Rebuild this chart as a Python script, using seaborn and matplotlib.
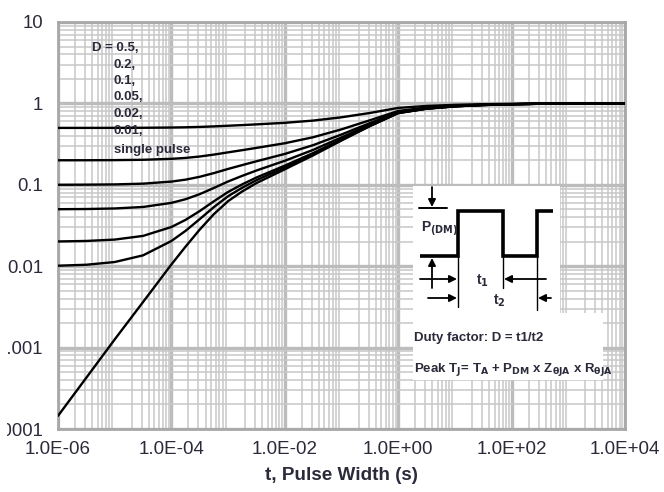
import numpy as np
import pandas as pd
import matplotlib
matplotlib.use("Agg")
import matplotlib.pyplot as plt
import seaborn as sns
from matplotlib.ticker import LogLocator, FixedLocator, FixedFormatter, NullFormatter
from matplotlib.patches import Rectangle

# ---------------- data ----------------
t_exp = [-6.0, -5.5, -5.0, -4.5, -4.0, -3.75, -3.5, -3.25, -3.0, -2.75, -2.5, -2.0,
         -1.5, -1.0, -0.5, 0.0, 0.5, 1.0, 1.5, 2.0, 2.5, 3.0, 3.5, 4.0]

z_d050 = [0.5, 0.5002, 0.5006, 0.5018, 0.5053, 0.5087, 0.5141, 0.5219, 0.5315, 0.5415,
          0.5525, 0.5775, 0.615, 0.675, 0.7625, 0.88, 0.93, 0.96, 0.978, 0.988, 0.995,
          0.998, 1.0, 1.0]
z_d020 = [0.2001, 0.2003, 0.201, 0.2029, 0.2084, 0.2139, 0.2226, 0.235, 0.2504, 0.2664,
          0.284, 0.324, 0.384, 0.48, 0.62, 0.808, 0.888, 0.936, 0.964, 0.98, 0.992,
          0.998, 1.0, 1.0]
z_d010 = [0.1001, 0.1004, 0.1011, 0.1033, 0.1095, 0.1157, 0.1254, 0.1393, 0.1567, 0.1747,
          0.1945, 0.2395, 0.307, 0.415, 0.5725, 0.784, 0.874, 0.928, 0.96, 0.978, 0.991,
          0.997, 1.0, 1.0]
z_d005 = [0.05014, 0.0504, 0.0512, 0.0534, 0.06, 0.0665, 0.0768, 0.0915, 0.1099, 0.1289,
          0.1498, 0.1973, 0.2685, 0.3825, 0.549, 0.772, 0.867, 0.924, 0.957, 0.976, 0.99,
          0.997, 1.0, 1.0]
z_d002 = [0.02014, 0.02042, 0.02123, 0.02356, 0.0303, 0.0371, 0.0476, 0.0628, 0.0817, 0.1013,
          0.1229, 0.1719, 0.2454, 0.363, 0.5345, 0.765, 0.863, 0.922, 0.956, 0.976, 0.99,
          0.997, 1.0, 1.0]
z_d001 = [0.01014, 0.01042, 0.01125, 0.01359, 0.0204, 0.0272, 0.0379, 0.0533, 0.0724, 0.0922,
          0.114, 0.1635, 0.2377, 0.3565, 0.53, 0.762, 0.861, 0.921, 0.955, 0.975, 0.99,
          0.997, 1.0, 1.0]
z_single = [1.45e-4, 4.27e-4, 1.26e-3, 3.63e-3, 0.0105, 0.0174, 0.0282, 0.0437, 0.063, 0.083,
            0.105, 0.155, 0.23, 0.35, 0.525, 0.76, 0.86, 0.92, 0.955, 0.975, 0.99,
            0.997, 1.0, 1.0]

series_names = ["D = 0.5,", "0.2,", "0.1,", "0.05,", "0.02,", "0.01,", "single pulse"]
series_values = [z_d050, z_d020, z_d010, z_d005, z_d002, z_d001, z_single]

x_ticks = [1e-6, 1e-4, 1e-2, 1e0, 1e2, 1e4]
x_tick_labels = ["1.0E-06", "1.0E-04", "1.0E-02", "1.0E+00", "1.0E+02", "1.0E+04"]
y_ticks = [1e-4, 1e-3, 1e-2, 1e-1, 1e0, 1e1]
y_tick_labels = ["0.0001", "0.001", "0.01", "0.1", "1", "10"]
x_label = "t, Pulse Width (s)"

# ---------------- build table ----------------
t_vals = [10 ** e for e in t_exp]
rows = []
for name, vals in zip(series_names, series_values):
    for t, z in zip(t_vals, vals):
        rows.append({"t": t, "z": z, "series": name})
df = pd.DataFrame(rows)

# ---------------- styling ----------------
sns.set_theme(style="white")
plt.rcParams["font.family"] = ["Liberation Sans", "DejaVu Sans"]
plt.rcParams["mathtext.fontset"] = "custom"
plt.rcParams["mathtext.rm"] = "Liberation Sans Narrow:bold"
plt.rcParams["mathtext.it"] = "Liberation Sans Narrow:bold"
plt.rcParams["mathtext.default"] = "rm"

W, H = 664, 492
fig = plt.figure(figsize=(W / 100, H / 100), dpi=100)
fig.patch.set_facecolor("white")

L, R, T, B = 58, 625, 22, 429
ax = fig.add_axes([L / W, (H - B) / H, (R - L) / W, (B - T) / H])
ax.set_xscale("log")
ax.set_yscale("log")
ax.set_xlim(1e-6, 1e4)
ax.set_ylim(1e-4, 10)

sns.lineplot(data=df, x="t", y="z", hue="series", palette=["black"] * len(series_names),
             legend=False, linewidth=1.7, estimator=None, sort=False, ax=ax, zorder=3)

ax.xaxis.set_major_locator(FixedLocator(x_ticks))
ax.xaxis.set_major_formatter(FixedFormatter(x_tick_labels))
ax.yaxis.set_major_locator(FixedLocator(y_ticks))
ax.yaxis.set_major_formatter(FixedFormatter(y_tick_labels))
ax.xaxis.set_minor_locator(LogLocator(base=10, subs=np.arange(2, 10), numticks=200))
ax.yaxis.set_minor_locator(LogLocator(base=10, subs=np.arange(2, 10), numticks=200))
ax.xaxis.set_minor_formatter(NullFormatter())
ax.yaxis.set_minor_formatter(NullFormatter())

ax.grid(which="major", color="#bcbcbc", linewidth=2.4)
ax.grid(which="minor", color="#c8c8c8", linewidth=1.1)
ax.set_axisbelow(True)
for s in ax.spines.values():
    s.set_color("#a8a8a8")
    s.set_linewidth(2)

ax.tick_params(axis="both", which="both", length=0)
ax.tick_params(axis="x", pad=9, labelsize=13.5, labelcolor="#2a2a3a")
ax.tick_params(axis="y", pad=10.8, labelsize=13.3, labelcolor="#2a2a3a")
ax.set_xlabel(x_label, fontsize=13.6, fontweight="bold", color="#2a2a3a", labelpad=6)
ax.set_ylabel("")

# ---------------- overlay in pixel coordinates ----------------
ov = fig.add_axes([0, 0, 1, 1])
ov.set_xlim(0, W)
ov.set_ylim(H, 0)
ov.axis("off")
ov.set_zorder(5)

# left crop edge of the original picture
ov.add_patch(Rectangle((0, 0), 7, H, facecolor="white", edgecolor="none"))

# duty-cycle labels
txt_kw = dict(fontsize=9.5, fontweight="bold", color="#2a2a3a", va="center", ha="left")
ov.text(92, 48, series_names[0], **txt_kw)
label_y = [65, 81, 97, 114, 131, 150]
for name, yy in zip(series_names[1:], label_y):
    ov.text(114, yy, name, **txt_kw)

# inset white boxes
ov.add_patch(Rectangle((413, 186), 147, 129, facecolor="white", edgecolor="none"))
ov.add_patch(Rectangle((413, 313), 190, 67, facecolor="white", edgecolor="none"))

# pulse waveform
ov.plot([420, 458, 458, 503, 503, 537, 537, 553],
        [256, 256, 211, 211, 256, 256, 211, 211],
        color="black", lw=2.6, solid_joinstyle="miter", solid_capstyle="butt")
ov.plot([419, 447], [208, 208], color="black", lw=1.4)
for xx, y0, y1 in [(458, 256, 307), (503, 256, 288), (537, 256, 310)]:
    ov.plot([xx, xx], [y0, y1], color="black", lw=1.0)

arr = dict(arrowstyle="-|>", color="black", lw=1.3, mutation_scale=11, shrinkA=0, shrinkB=0)
ov.annotate("", xy=(432, 207), xytext=(432, 187), arrowprops=arr)
ov.annotate("", xy=(432, 258), xytext=(432, 288), arrowprops=arr)
ov.annotate("", xy=(457, 279), xytext=(420, 279), arrowprops=arr)
ov.annotate("", xy=(504, 279), xytext=(546, 279), arrowprops=arr)
ov.annotate("", xy=(457, 298), xytext=(428, 298), arrowprops=arr)
ov.annotate("", xy=(538, 298), xytext=(551, 298), arrowprops=arr)

nar = dict(family=["Liberation Sans Narrow", "Liberation Sans", "DejaVu Sans"],
           fontweight="bold", color="#2a2a3a", va="center", ha="left")
ov.text(421, 228, r"P$_{(DM)}$", fontsize=10, **nar)
ov.text(476, 281, r"t$_1$", fontsize=10, **nar)
ov.text(493, 301, r"t$_2$", fontsize=10, **nar)
ov.text(414, 338, "Duty factor: D = t1/t2", fontsize=9.5, **nar)
ov.text(414, 370, r"Peak T$_J$= T$_A$ + P$_{DM}$ x Z$_{\theta JA}$ x R$_{\theta JA}$",
        fontsize=9.5, **nar)

fig.savefig("out.png", dpi=100)
